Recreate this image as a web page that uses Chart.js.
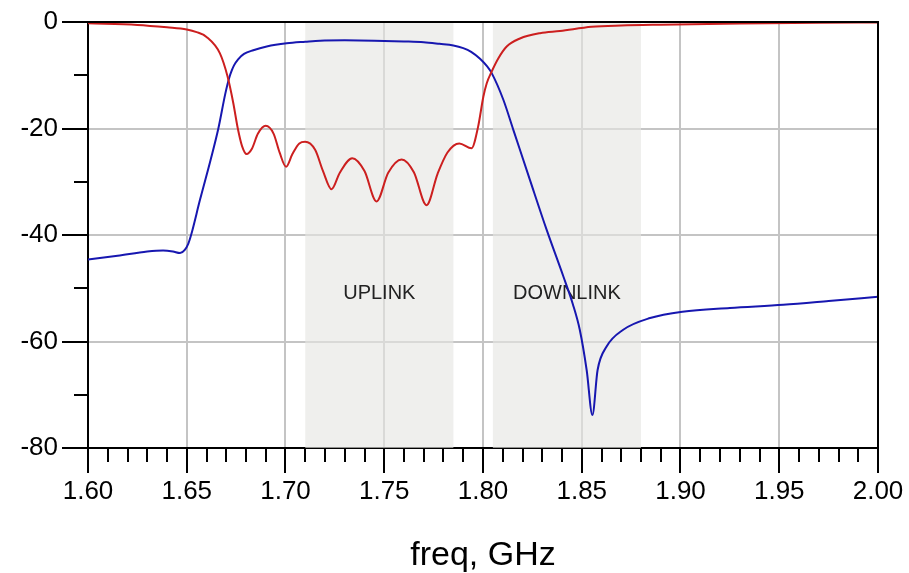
<!DOCTYPE html>
<html>
<head>
<meta charset="utf-8">
<script src="https://cdn.jsdelivr.net/npm/chart.js@4.4.1/dist/chart.umd.min.js"></script>
<style>
  html, body { margin: 0; padding: 0; background: #fff; }
  #wrap { width: 909px; height: 573px; }
</style>
</head>
<body>
<div id="wrap"><canvas id="sparam" width="909" height="573"></canvas></div>
<script>
// frecuencias y valores (GHz / dB)
const s11Freq = [1.600, 1.625, 1.640, 1.650, 1.655, 1.660, 1.6668, 1.6707, 1.6736, 1.6758, 1.678, 1.6803,
  1.683, 1.686, 1.690, 1.694, 1.697, 1.7003, 1.7035, 1.707, 1.7099, 1.715, 1.719, 1.7233, 1.7275, 1.7338,
  1.740, 1.7461, 1.752, 1.7588, 1.765, 1.7714, 1.777, 1.782, 1.788, 1.7942, 1.7975, 1.8002, 1.8019,
  1.8044, 1.8078, 1.812, 1.8187, 1.8289, 1.839, 1.855, 1.870, 1.890, 1.930, 1.970, 2.000];
const s11Db = [-0.25, -0.55, -1.0, -1.4, -1.9, -2.8, -5.9, -10.3, -15.3, -19.9, -23.3, -24.8,
  -23.8, -21.0, -19.5, -21.0, -24.5, -27.2, -24.8, -22.8, -22.5, -24.0, -28.0, -31.4, -28.3, -25.6,
  -28.0, -33.7, -28.3, -25.8, -28.2, -34.4, -28.5, -24.5, -22.8, -23.7, -19.7, -14.0, -11.5,
  -9.3, -6.8, -4.6, -3.1, -2.1, -1.7, -0.9, -0.65, -0.5, -0.3, -0.15, -0.1];

const s21Freq = [1.600, 1.615, 1.630, 1.638, 1.643, 1.6466, 1.649, 1.6508, 1.6522, 1.6567, 1.662, 1.666,
  1.6695, 1.6714, 1.6728, 1.674, 1.676, 1.679, 1.6837, 1.6905, 1.7006, 1.710, 1.7175, 1.730, 1.745,
  1.760, 1.770, 1.778, 1.785, 1.790, 1.794, 1.7985, 1.802, 1.8044, 1.8103, 1.8154, 1.8238, 1.8322,
  1.8407, 1.8455, 1.849, 1.8525, 1.8554, 1.858, 1.8625, 1.871, 1.8846, 1.901, 1.925, 1.952, 1.975, 2.000];
const s21Db = [-44.6, -43.9, -43.1, -42.9, -43.1, -43.4, -42.8, -41.6, -40.0, -33.4, -26.0, -20.0,
  -13.5, -10.6, -9.1, -8.1, -7.0, -6.0, -5.3, -4.6, -4.0, -3.7, -3.5, -3.45, -3.5,
  -3.65, -3.8, -4.1, -4.4, -4.9, -5.6, -6.9, -8.3, -9.6, -14.6, -20.3, -29.7, -39.0,
  -47.8, -53.0, -57.8, -65.4, -73.8, -65.4, -61.0, -57.8, -55.6, -54.4, -53.7, -53.1, -52.4, -51.6];

// bandas sombreadas
const bandNames = ['UPLINK', 'DOWNLINK'];
const bandStart = [1.71, 1.805];
const bandEnd = [1.785, 1.88];
const bandLabelDb = -51;

const xTicks = [1.60, 1.65, 1.70, 1.75, 1.80, 1.85, 1.90, 1.95, 2.00];
const yTicks = [0, -20, -40, -60, -80];

const FONT = '"Liberation Sans", Arial, sans-serif';

function toPoints(xs, ys) {
  return xs.map((x, i) => ({ x: x, y: ys[i] }));
}

// MARK: sombreado de bandas, ticks menores y marco
const framePlugin = {
  id: 'frame',
  beforeDatasetsDraw(chart) {
    const { ctx, chartArea: a, scales: { x, y } } = chart;
    ctx.save();
    ctx.fillStyle = 'rgba(230,229,227,0.63)';
    bandNames.forEach((name, i) => {
      const x0 = x.getPixelForValue(bandStart[i]);
      const x1 = x.getPixelForValue(bandEnd[i]);
      ctx.fillRect(x0, a.top, x1 - x0, a.bottom - a.top);
    });
    ctx.fillStyle = '#222';
    ctx.font = '20px ' + FONT;
    ctx.textAlign = 'center';
    ctx.textBaseline = 'middle';
    bandNames.forEach((name, i) => {
      const cx = (x.getPixelForValue(bandStart[i]) + x.getPixelForValue(bandEnd[i])) / 2;
      ctx.fillText(name, cx, y.getPixelForValue(bandLabelDb));
    });
    ctx.restore();
  },
  afterDraw(chart) {
    const { ctx, chartArea: a, scales: { x, y } } = chart;
    ctx.save();
    ctx.strokeStyle = '#000';
    ctx.lineWidth = 2;
    ctx.beginPath();
    for (let k = 1; k < 40; k++) {
      if (k % 5 === 0) continue;
      const px = Math.round(x.getPixelForValue(1.6 + k * 0.01));
      ctx.moveTo(px, a.bottom);
      ctx.lineTo(px, a.bottom + 14);
    }
    for (let v = -10; v > -80; v -= 20) {
      const py = Math.round(y.getPixelForValue(v));
      ctx.moveTo(a.left, py);
      ctx.lineTo(a.left - 14, py);
    }
    ctx.moveTo(a.left, a.top);
    ctx.lineTo(a.right, a.top);
    ctx.lineTo(a.right, a.bottom);
    ctx.stroke();
    ctx.restore();
  }
};

const chart = new Chart(document.getElementById('sparam').getContext('2d'), {
  type: 'line',
  data: {
    datasets: [
      {
        label: 'S11',
        data: toPoints(s11Freq, s11Db),
        borderColor: '#cc1f1f',
        borderWidth: 2,
        pointRadius: 0,
        cubicInterpolationMode: 'monotone',
        fill: false
      },
      {
        label: 'S21',
        data: toPoints(s21Freq, s21Db),
        borderColor: '#1717b0',
        borderWidth: 2,
        pointRadius: 0,
        cubicInterpolationMode: 'monotone',
        fill: false
      }
    ]
  },
  options: {
    responsive: false,
    animation: false,
    layout: { padding: { top: 22, right: 31, left: 0, bottom: 0 } },
    plugins: {
      legend: { display: false },
      tooltip: { enabled: false }
    },
    scales: {
      x: {
        type: 'linear',
        min: 1.6,
        max: 2.0,
        afterFit: s => { s.height = 125; },
        afterBuildTicks: s => { s.ticks = xTicks.map(v => ({ value: v })); },
        border: { color: '#000', width: 2 },
        grid: { color: '#c4c4c4', lineWidth: 2, tickColor: '#000', tickWidth: 2, tickLength: 25 },
        ticks: {
          color: '#000',
          font: { family: FONT, size: 26 },
          padding: 3,
          maxRotation: 0,
          autoSkip: false,
          callback: v => Number(v).toFixed(2)
        },
        title: {
          display: true,
          text: 'freq, GHz',
          color: '#000',
          font: { family: FONT, size: 34, lineHeight: 1 },
          padding: { top: 0, bottom: 0 }
        }
      },
      y: {
        type: 'linear',
        min: -80,
        max: 0,
        afterFit: s => { s.width = 88; },
        afterBuildTicks: s => { s.ticks = yTicks.map(v => ({ value: v })); },
        border: { color: '#000', width: 2 },
        grid: { color: '#c4c4c4', lineWidth: 2, tickColor: '#000', tickWidth: 2, tickLength: 26 },
        ticks: {
          color: '#000',
          font: { family: FONT, size: 26 },
          padding: 4,
          autoSkip: false
        }
      }
    }
  },
  plugins: [framePlugin]
});
</script>
</body>
</html>
